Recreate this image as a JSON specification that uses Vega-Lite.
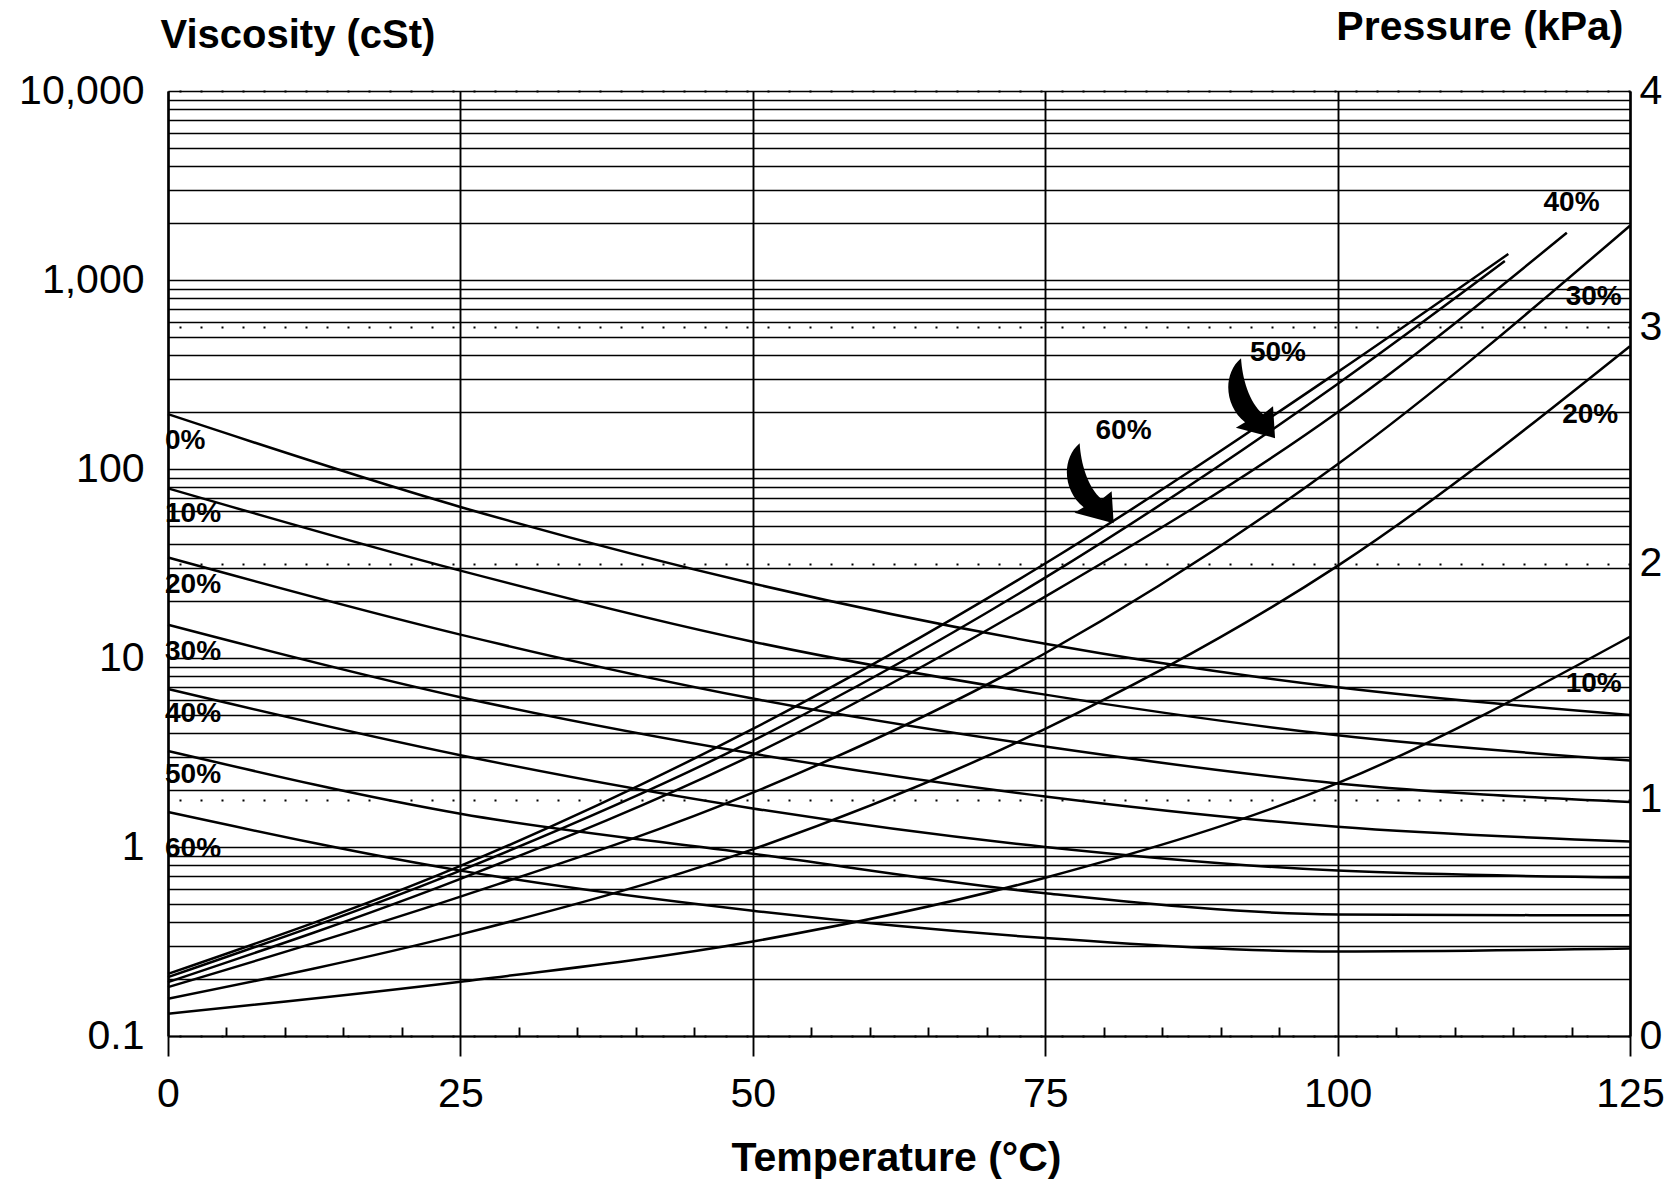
{
  "$schema": "https://vega.github.io/schema/vega-lite/v6.json",
  "width": 1462,
  "height": 945,
  "autosize": {"type": "none"},
  "padding": {"left": 168, "top": 91, "right": 44, "bottom": 147},
  "background": "white",
  "config": {
    "view": {"stroke": null},
    "font": "Liberation Sans",
    "axis": {"domainColor": "#000", "gridColor": "#000", "tickColor": "#000", "labelColor": "#000", "titleColor": "#000", "labelFont": "Liberation Sans", "titleFont": "Liberation Sans"}
  },
  "datasets": {
    "visc": [
      {"series": "0%", "T": 0, "v": 195}, {"series": "0%", "T": 25, "v": 63}, {"series": "0%", "T": 50, "v": 24.8}, {"series": "0%", "T": 75, "v": 11.9}, {"series": "0%", "T": 100, "v": 7.0}, {"series": "0%", "T": 125, "v": 5.0},
      {"series": "10%", "T": 0, "v": 79}, {"series": "10%", "T": 25, "v": 29}, {"series": "10%", "T": 50, "v": 12.2}, {"series": "10%", "T": 75, "v": 6.4}, {"series": "10%", "T": 100, "v": 3.9}, {"series": "10%", "T": 125, "v": 2.87},
      {"series": "20%", "T": 0, "v": 34}, {"series": "20%", "T": 25, "v": 13.3}, {"series": "20%", "T": 50, "v": 6.1}, {"series": "20%", "T": 75, "v": 3.4}, {"series": "20%", "T": 100, "v": 2.17}, {"series": "20%", "T": 125, "v": 1.73},
      {"series": "30%", "T": 0, "v": 15}, {"series": "30%", "T": 25, "v": 6.2}, {"series": "30%", "T": 50, "v": 3.12}, {"series": "30%", "T": 75, "v": 1.85}, {"series": "30%", "T": 100, "v": 1.28}, {"series": "30%", "T": 125, "v": 1.07},
      {"series": "40%", "T": 0, "v": 6.85}, {"series": "40%", "T": 25, "v": 3.06}, {"series": "40%", "T": 50, "v": 1.6}, {"series": "40%", "T": 75, "v": 1.0}, {"series": "40%", "T": 100, "v": 0.75}, {"series": "40%", "T": 125, "v": 0.69},
      {"series": "50%", "T": 0, "v": 3.22}, {"series": "50%", "T": 25, "v": 1.5}, {"series": "50%", "T": 50, "v": 0.92}, {"series": "50%", "T": 75, "v": 0.57}, {"series": "50%", "T": 100, "v": 0.44}, {"series": "50%", "T": 125, "v": 0.435},
      {"series": "60%", "T": 0, "v": 1.53}, {"series": "60%", "T": 25, "v": 0.75}, {"series": "60%", "T": 50, "v": 0.46}, {"series": "60%", "T": 75, "v": 0.33}, {"series": "60%", "T": 100, "v": 0.28}, {"series": "60%", "T": 125, "v": 0.29}
    ],
    "press": [
      {"series": "10%", "T": 0, "p": 0.094}, {"series": "10%", "T": 25, "p": 0.23}, {"series": "10%", "T": 50, "p": 0.40}, {"series": "10%", "T": 75, "p": 0.67}, {"series": "10%", "T": 100, "p": 1.07}, {"series": "10%", "T": 125, "p": 1.69},
      {"series": "20%", "T": 0, "p": 0.158}, {"series": "20%", "T": 25, "p": 0.43}, {"series": "20%", "T": 50, "p": 0.79}, {"series": "20%", "T": 75, "p": 1.30}, {"series": "20%", "T": 100, "p": 1.99}, {"series": "20%", "T": 125, "p": 2.92},
      {"series": "30%", "T": 0, "p": 0.207}, {"series": "30%", "T": 25, "p": 0.59}, {"series": "30%", "T": 50, "p": 1.03}, {"series": "30%", "T": 75, "p": 1.62}, {"series": "30%", "T": 100, "p": 2.42}, {"series": "30%", "T": 125, "p": 3.43},
      {"series": "40%", "T": 0, "p": 0.228}, {"series": "40%", "T": 25, "p": 0.665}, {"series": "40%", "T": 50, "p": 1.19}, {"series": "40%", "T": 75, "p": 1.86}, {"series": "40%", "T": 100, "p": 2.64}, {"series": "40%", "T": 119.6, "p": 3.40},
      {"series": "50%", "T": 0, "p": 0.249}, {"series": "50%", "T": 25, "p": 0.70}, {"series": "50%", "T": 50, "p": 1.25}, {"series": "50%", "T": 75, "p": 1.94}, {"series": "50%", "T": 100, "p": 2.76}, {"series": "50%", "T": 114.3, "p": 3.28},
      {"series": "60%", "T": 0, "p": 0.263}, {"series": "60%", "T": 25, "p": 0.72}, {"series": "60%", "T": 50, "p": 1.30}, {"series": "60%", "T": 75, "p": 2.00}, {"series": "60%", "T": 100, "p": 2.81}, {"series": "60%", "T": 114.6, "p": 3.31}
    ],
    "viscLabels": [
      {"label": "0%", "T": 0, "v": 140}, {"label": "10%", "T": 0, "v": 58}, {"label": "20%", "T": 0, "v": 24.2}, {"label": "30%", "T": 0, "v": 10.8}, {"label": "40%", "T": 0, "v": 5.08}, {"label": "50%", "T": 0, "v": 2.39}, {"label": "60%", "T": 0, "v": 0.975}
    ],
    "pressLabels": [
      {"label": "40%", "T": 120.0, "p": 3.525}, {"label": "30%", "T": 121.9, "p": 3.13}, {"label": "20%", "T": 121.6, "p": 2.63}, {"label": "10%", "T": 121.9, "p": 1.49}, {"label": "50%", "T": 94.9, "p": 2.89}, {"label": "60%", "T": 81.7, "p": 2.56}
    ],
    "arrows": [
      {"label": "60%", "T": 78.8, "p": 2.34}, {"label": "50%", "T": 92.6, "p": 2.70}
    ]
  },
  "layer": [
    {
      "data": {"name": "visc"},
      "mark": {"type": "line", "color": "#000", "strokeWidth": 2.5, "interpolate": "monotone"},
      "encoding": {
        "x": {"field": "T", "type": "quantitative", "scale": {"domain": [0, 125], "nice": false, "zero": false},
          "axis": {"orient": "bottom", "values": [0, 25, 50, 75, 100, 125], "grid": true, "gridWidth": 1.9, "ticks": true, "tickSize": 20, "tickWidth": 1.9, "domain": true, "domainWidth": 2.2, "labelFontSize": 41, "labelPadding": 18, "labelFlush": false, "labelOverlap": false, "labelBound": false, "title": "Temperature (°C)", "titleFontSize": 41, "titleFontWeight": "bold", "titleX": 728, "titleY": 122, "titleAlign": "center", "titleBaseline": "middle", "titleAngle": 0}},
        "y": {"field": "v", "type": "quantitative", "scale": {"type": "log", "domain": [0.1, 10000], "nice": false, "zero": false},
          "axis": {"orient": "left", "values": [0.1, 0.2, 0.3, 0.4, 0.5, 0.6, 0.7, 0.8, 0.9, 1, 2, 3, 4, 5, 6, 7, 8, 9, 10, 20, 30, 40, 50, 60, 70, 80, 90, 100, 200, 300, 400, 500, 600, 700, 800, 900, 1000, 2000, 3000, 4000, 5000, 6000, 7000, 8000, 9000, 10000],
            "grid": true, "gridWidth": 1.6, "ticks": false, "domain": true, "domainWidth": 2.4,
            "labelExpr": "datum.value == 0.1 ? '0.1' : (datum.value == 1 || datum.value == 10 || datum.value == 100 || datum.value == 1000 || datum.value == 10000) ? format(datum.value, ',') : ''",
            "labelFontSize": 41, "labelPadding": 24, "labelOverlap": false, "labelBound": false, "labelFlush": false,
            "title": "Viscosity (cSt)", "titleAngle": 0, "titleAlign": "left", "titleBaseline": "middle", "titleX": -8, "titleY": -56, "titleFontSize": 40, "titleFontWeight": "bold"}},
        "detail": {"field": "series", "type": "nominal"}
      }
    },
    {
      "data": {"name": "viscLabels"},
      "mark": {"type": "text", "align": "left", "baseline": "middle", "dx": -3, "fontSize": 28, "fontWeight": "bold", "color": "#000"},
      "encoding": {
        "x": {"field": "T", "type": "quantitative", "scale": {"domain": [0, 125], "nice": false, "zero": false}, "axis": null},
        "y": {"field": "v", "type": "quantitative", "scale": {"type": "log", "domain": [0.1, 10000], "nice": false, "zero": false}, "axis": null},
        "text": {"field": "label", "type": "nominal"}
      }
    },
    {
      "data": {"name": "press"},
      "mark": {"type": "line", "color": "#000", "strokeWidth": 2.5, "interpolate": "monotone"},
      "encoding": {
        "x": {"field": "T", "type": "quantitative", "scale": {"domain": [0, 125], "nice": false, "zero": false},
          "axis": {"orient": "bottom", "values": [5, 10, 15, 20, 30, 35, 40, 45, 55, 60, 65, 70, 80, 85, 90, 95, 105, 110, 115, 120], "grid": false, "ticks": true, "tickSize": -9, "tickWidth": 1.9, "domain": false, "labels": false, "title": null}},
        "y": {"field": "p", "type": "quantitative", "scale": {"domain": [0, 4], "nice": false, "zero": false},
          "axis": {"orient": "right", "values": [0, 1, 2, 3, 4], "grid": true, "gridDash": [2, 19], "gridWidth": 2, "ticks": false, "domain": true, "domainWidth": 2.4, "labelFontSize": 41, "labelPadding": 9, "labelOverlap": false, "labelFlush": false, "labelBound": false,
            "title": "Pressure (kPa)", "titleAngle": 0, "titleAlign": "right", "titleBaseline": "middle", "titleX": -7, "titleY": -64, "titleFontSize": 41, "titleFontWeight": "bold"}},
        "detail": {"field": "series", "type": "nominal"}
      }
    },
    {
      "data": {"name": "pressLabels"},
      "mark": {"type": "text", "align": "center", "baseline": "middle", "fontSize": 28, "fontWeight": "bold", "color": "#000"},
      "encoding": {
        "x": {"field": "T", "type": "quantitative", "scale": {"domain": [0, 125], "nice": false, "zero": false}, "axis": null},
        "y": {"field": "p", "type": "quantitative", "scale": {"domain": [0, 4], "nice": false, "zero": false}, "axis": null},
        "text": {"field": "label", "type": "nominal"}
      }
    },
    {
      "data": {"name": "arrows"},
      "mark": {"type": "point", "filled": true, "color": "#000", "opacity": 1, "strokeWidth": 0, "size": 6400,
        "shape": "M -0.25 -1 C -0.72 -0.6 -0.66 0.2 -0.15 0.6 L -0.38 0.74 L 0.6 1 L 0.55 0.2 L 0.3 0.4 C -0.05 0.1 -0.22 -0.5 -0.25 -1 Z"},
      "encoding": {
        "x": {"field": "T", "type": "quantitative", "scale": {"domain": [0, 125], "nice": false, "zero": false}, "axis": null},
        "y": {"field": "p", "type": "quantitative", "scale": {"domain": [0, 4], "nice": false, "zero": false}, "axis": null}
      }
    }
  ],
  "resolve": {"scale": {"y": "independent"}, "axis": {"x": "independent"}}
}
